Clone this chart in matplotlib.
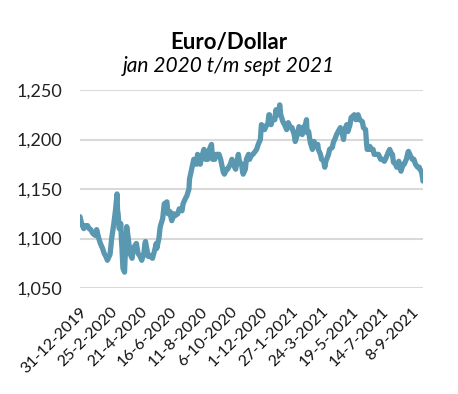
import matplotlib
matplotlib.use("Agg")
import matplotlib.pyplot as plt
import pandas as pd

dates = [
    "2019-12-31", "2020-01-03", "2020-01-07", "2020-01-10", "2020-01-14", "2020-01-17", "2020-01-20", "2020-01-24",
    "2020-01-29", "2020-01-31", "2020-02-04", "2020-02-07", "2020-02-11", "2020-02-14", "2020-02-18", "2020-02-20",
    "2020-02-25", "2020-02-28", "2020-03-03", "2020-03-06", "2020-03-09", "2020-03-10", "2020-03-11", "2020-03-12",
    "2020-03-13", "2020-03-16", "2020-03-17", "2020-03-18", "2020-03-19", "2020-03-20", "2020-03-23", "2020-03-24",
    "2020-03-25", "2020-03-26", "2020-03-27", "2020-03-30", "2020-03-31", "2020-04-01", "2020-04-02", "2020-04-06",
    "2020-04-08", "2020-04-14", "2020-04-15", "2020-04-17", "2020-04-21", "2020-04-24", "2020-04-28", "2020-04-30",
    "2020-05-01", "2020-05-06", "2020-05-08", "2020-05-12", "2020-05-14", "2020-05-19", "2020-05-21", "2020-05-22",
    "2020-05-26", "2020-05-28", "2020-05-29", "2020-06-02", "2020-06-04", "2020-06-05", "2020-06-10", "2020-06-11",
    "2020-06-12", "2020-06-16", "2020-06-18", "2020-06-19", "2020-06-23", "2020-06-25", "2020-06-30", "2020-07-03",
    "2020-07-08", "2020-07-10", "2020-07-14", "2020-07-17", "2020-07-21", "2020-07-22", "2020-07-24", "2020-07-28",
    "2020-07-30", "2020-07-31", "2020-08-04", "2020-08-06", "2020-08-07", "2020-08-11", "2020-08-14", "2020-08-18",
    "2020-08-19", "2020-08-21", "2020-08-25", "2020-08-28", "2020-09-01", "2020-09-03", "2020-09-07", "2020-09-10",
    "2020-09-15", "2020-09-18", "2020-09-23", "2020-09-25", "2020-09-29", "2020-10-01", "2020-10-06", "2020-10-09",
    "2020-10-14", "2020-10-16", "2020-10-21", "2020-10-23", "2020-10-27", "2020-10-29", "2020-10-30", "2020-11-03",
    "2020-11-05", "2020-11-09", "2020-11-11", "2020-11-13", "2020-11-17", "2020-11-20", "2020-11-24", "2020-11-27",
    "2020-12-01", "2020-12-03", "2020-12-07", "2020-12-09", "2020-12-11", "2020-12-15", "2020-12-17", "2020-12-18",
    "2020-12-21", "2020-12-23", "2020-12-28", "2020-12-30", "2020-12-31", "2021-01-04", "2021-01-06", "2021-01-08",
    "2021-01-12", "2021-01-15", "2021-01-19", "2021-01-22", "2021-01-26", "2021-01-29", "2021-02-02", "2021-02-04",
    "2021-02-08", "2021-02-11", "2021-02-15", "2021-02-17", "2021-02-19", "2021-02-23", "2021-02-25", "2021-02-26",
    "2021-03-01", "2021-03-04", "2021-03-08", "2021-03-11", "2021-03-15", "2021-03-18", "2021-03-19", "2021-03-23",
    "2021-03-25", "2021-03-29", "2021-03-31", "2021-04-02", "2021-04-07", "2021-04-09", "2021-04-14", "2021-04-16",
    "2021-04-20", "2021-04-22", "2021-04-27", "2021-04-29", "2021-05-03", "2021-05-05", "2021-05-07", "2021-05-11",
    "2021-05-13", "2021-05-17", "2021-05-19", "2021-05-25", "2021-05-28", "2021-06-01", "2021-06-04", "2021-06-09",
    "2021-06-11", "2021-06-15", "2021-06-17", "2021-06-18", "2021-06-21", "2021-06-23", "2021-06-25", "2021-06-29",
    "2021-07-01", "2021-07-06", "2021-07-09", "2021-07-13", "2021-07-16", "2021-07-20", "2021-07-22", "2021-07-28",
    "2021-07-30", "2021-08-02", "2021-08-04", "2021-08-06", "2021-08-10", "2021-08-12", "2021-08-16", "2021-08-19",
    "2021-08-20", "2021-08-24", "2021-08-26", "2021-08-30", "2021-09-02", "2021-09-03", "2021-09-07", "2021-09-10",
    "2021-09-13", "2021-09-16", "2021-09-20", "2021-09-23", "2021-09-24", "2021-09-27", "2021-09-29", "2021-09-30",
]
rates = [
    1.122, 1.115, 1.110, 1.113, 1.113, 1.110, 1.109, 1.105,
    1.103, 1.109, 1.100, 1.095, 1.090, 1.085, 1.081, 1.078,
    1.084, 1.100, 1.115, 1.128, 1.145, 1.128, 1.125, 1.118,
    1.110, 1.115, 1.100, 1.092, 1.080, 1.070, 1.066, 1.080,
    1.088, 1.100, 1.112, 1.100, 1.095, 1.090, 1.085, 1.080,
    1.090, 1.095, 1.092, 1.085, 1.082, 1.078, 1.085, 1.095,
    1.097, 1.082, 1.083, 1.081, 1.080, 1.090, 1.095, 1.090,
    1.100, 1.110, 1.113, 1.120, 1.130, 1.135, 1.137, 1.130,
    1.125, 1.127, 1.120, 1.118, 1.125, 1.123, 1.125, 1.130,
    1.128, 1.135, 1.140, 1.143, 1.150, 1.160, 1.165, 1.175,
    1.180, 1.178, 1.175, 1.185, 1.180, 1.175, 1.183, 1.190,
    1.185, 1.180, 1.180, 1.190, 1.195, 1.180, 1.180, 1.185,
    1.185, 1.180, 1.167, 1.165, 1.170, 1.170, 1.175, 1.180,
    1.172, 1.170, 1.185, 1.178, 1.175, 1.167, 1.165, 1.170,
    1.180, 1.185, 1.180, 1.183, 1.185, 1.187, 1.190, 1.195,
    1.200, 1.215, 1.213, 1.210, 1.213, 1.216, 1.225, 1.225,
    1.215, 1.220, 1.220, 1.230, 1.225, 1.225, 1.235, 1.225,
    1.218, 1.215, 1.210, 1.217, 1.212, 1.212, 1.205, 1.198,
    1.205, 1.213, 1.210, 1.205, 1.212, 1.215, 1.220, 1.207,
    1.208, 1.197, 1.190, 1.198, 1.193, 1.195, 1.190, 1.185,
    1.180, 1.178, 1.172, 1.178, 1.185, 1.190, 1.192, 1.197,
    1.202, 1.205, 1.210, 1.212, 1.205, 1.200, 1.210, 1.215,
    1.208, 1.215, 1.222, 1.225, 1.220, 1.225, 1.220, 1.218,
    1.212, 1.210, 1.195, 1.190, 1.190, 1.193, 1.190, 1.190,
    1.185, 1.185, 1.185, 1.180, 1.180, 1.178, 1.180, 1.188,
    1.190, 1.186, 1.185, 1.177, 1.175, 1.172, 1.178, 1.170,
    1.168, 1.175, 1.175, 1.180, 1.187, 1.188, 1.183, 1.180,
    1.180, 1.175, 1.172, 1.172, 1.170, 1.168, 1.162, 1.158,
]

tick_labels = ["31-12-2019", "25-2-2020", "21-4-2020", "16-6-2020", "11-8-2020", "6-10-2020",
               "1-12-2020", "27-1-2021", "24-3-2021", "19-5-2021", "14-7-2021", "8-9-2021"]
y_ticks = [1.05, 1.10, 1.15, 1.20, 1.25]

title = "Euro/Dollar"
subtitle = "jan 2020 t/m sept 2021"

FONT = "Lato"
plt.rcParams["font.family"] = [FONT, "DejaVu Sans"]

W, H = 458, 394
fig = plt.figure(figsize=(W / 100, H / 100), dpi=100)
ax = fig.add_axes([80 / W, 1 - 288 / H, 343 / W, 198 / H])

x = pd.to_datetime(dates)
ax.plot(x, rates, color="#5A97B0", lw=3.8, solid_joinstyle="round", solid_capstyle="round", zorder=3)

ax.set_ylim(1.05, 1.25)
ax.set_yticks(y_ticks)
ax.set_yticklabels([f"{v:.3f}".replace(".", ",") for v in y_ticks], fontsize=13, color="#222222")
ax.set_xlim(pd.Timestamp("2019-12-31"), pd.Timestamp("2021-09-30"))
tick_pos = pd.to_datetime(tick_labels, format="%d-%m-%Y")
ax.set_xticks(tick_pos)
ax.set_xticklabels(tick_labels, rotation=45, ha="right", rotation_mode="anchor", fontsize=11.5, color="#111111")

ax.grid(axis="y", color="#D9D9D9", lw=1.5, zorder=0)
ax.tick_params(axis="both", length=0)
ax.tick_params(axis="y", pad=13)
ax.tick_params(axis="x", pad=12)
for s in ax.spines.values():
    s.set_visible(False)

cx = 229 / W
fig.text(cx, 1 - 49 / H, title, ha="center", va="baseline", fontsize=16, fontweight="bold")
fig.text(cx, 1 - 72 / H, subtitle, ha="center", va="baseline", fontsize=15, style="italic")

fig.savefig("out.png", dpi=100)
